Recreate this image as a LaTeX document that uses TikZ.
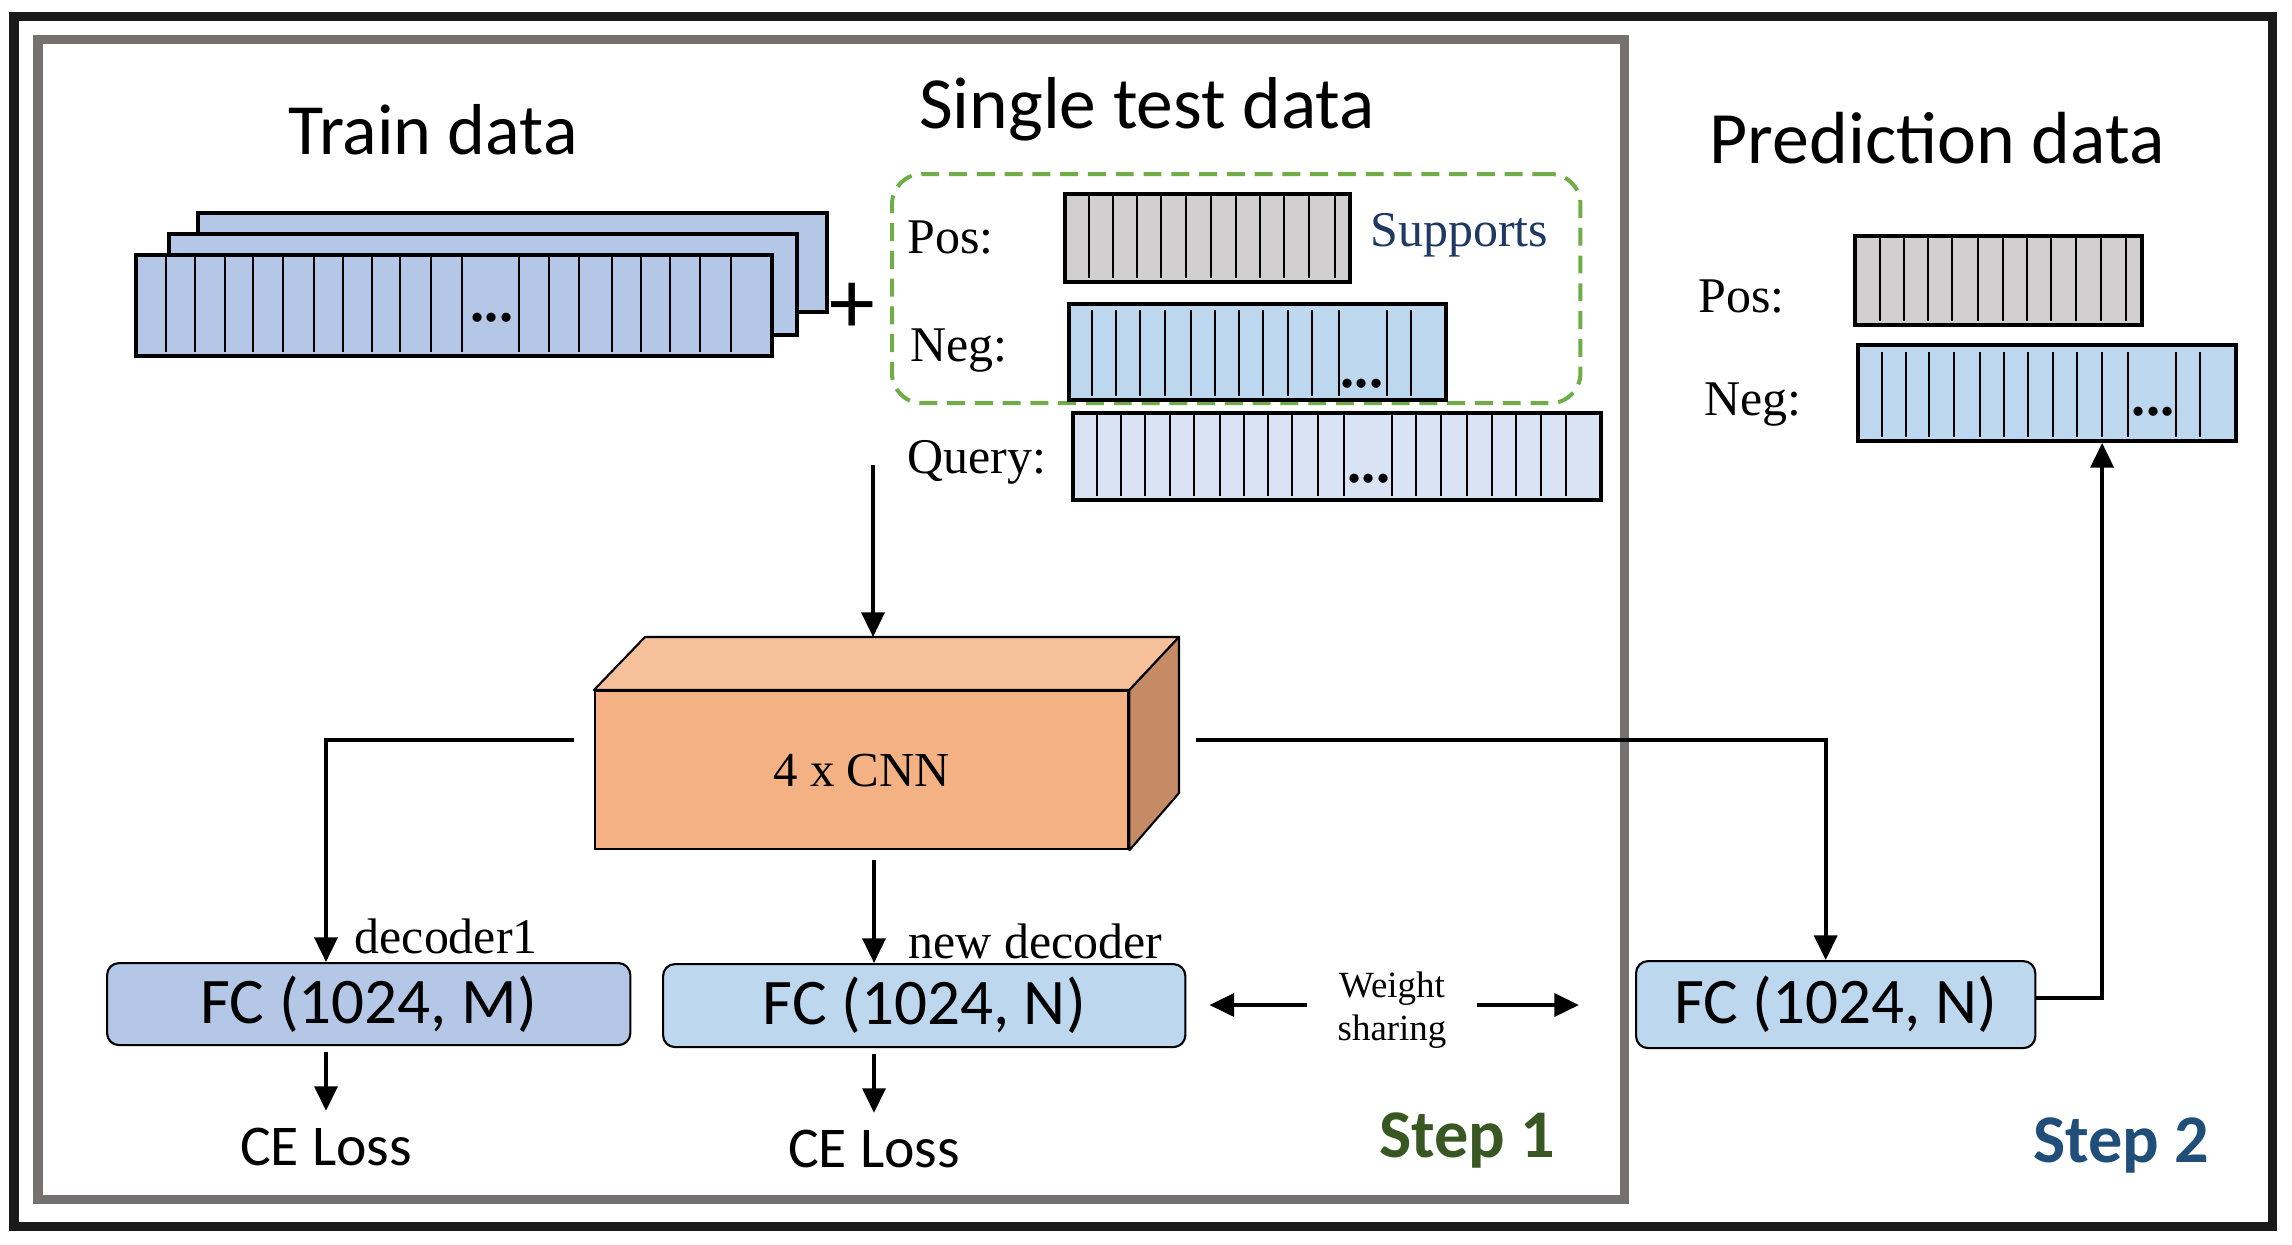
\documentclass[tikz,border=0pt]{standalone}
\usepackage{fontspec}
\setmainfont{Liberation Serif}
\newfontfamily\calib{Carlito}
\usetikzlibrary{arrows.meta,calc}
\definecolor{cTrain}{HTML}{B4C7E7}
\definecolor{cPos}{HTML}{D0CECE}
\definecolor{cNeg}{HTML}{BDD7EE}
\definecolor{cQuery}{HTML}{DAE3F3}
\definecolor{cFront}{HTML}{F4B183}
\definecolor{cTop}{HTML}{F6C09A}
\definecolor{cSide}{HTML}{C48B65}
\definecolor{cGray}{HTML}{767171}
\definecolor{cGreen}{HTML}{70AD47}
\definecolor{cStepA}{HTML}{385723}
\definecolor{cStepB}{HTML}{1F4E79}
\definecolor{cSupp}{HTML}{203864}
\definecolor{cFrame}{HTML}{1A1A1A}
\begin{document}
\begin{tikzpicture}[x=0.01cm,y=-0.01cm,
  arr/.style={line width=1.1pt,-{Triangle[length=7pt,width=6.5pt]}},
  strip/.style={draw,line width=1.1pt,inner sep=0,anchor=north west},
  div/.style={line width=0.6pt},
  fcbox/.style={draw,line width=0.6pt,rounded corners=0.12cm,inner sep=0,anchor=north west,
    font=\calib\fontsize{18.5}{22}\selectfont},
  lab/.style={anchor=base west,inner sep=0,font=\fontsize{14.2}{17}\selectfont},
  dots/.style={anchor=base,inner sep=0,font=\bfseries\fontsize{16}{16}\selectfont},
  title/.style={anchor=base,inner sep=0},
  celoss/.style={anchor=base,inner xsep=0,inner ysep=0.16cm,font=\calib\fontsize{16.4}{20}\selectfont},
  steplab/.style={anchor=base,inner sep=0,font=\calib\bfseries\fontsize{19.4}{23}\selectfont}
]
\useasboundingbox[fill=white] (0,0) rectangle (2292,1244);

% frames
\draw[cFrame,line width=2.56pt] (14,16) rectangle (2272,1226);
\draw[cGray,line width=2.56pt] (38,39) rectangle (1624,1199);

% titles
\node[title,font=\calib\fontsize{20.5}{24}\selectfont] (ttrain) at (433,154) {Train data};
\node[title,font=\calib\fontsize{20.9}{24}\selectfont] (ttest) at (1147,128) {Single test data};
\node[title,font=\calib\fontsize{21}{24}\selectfont] (tpred) at (1937,163) {Prediction data};

% train stack
\node[strip,fill=cTrain,minimum width=6.29cm,minimum height=0.99cm] (tr3) at (196,211) {};
\node[strip,fill=cTrain,minimum width=6.28cm,minimum height=1.01cm] (tr2) at (167,232) {};
\node[strip,fill=cTrain,minimum width=6.36cm,minimum height=1.01cm] (tr1) at (134,253) {};
\foreach \x in {166,195,225,253,283,314,343,372,400,431,462,519,549,579,612,641,670,700,731}
  \draw[div] (\x,255) -- (\x,352);
\node[dots] (dtr) at (492,321) {...};
\node[inner sep=0,font=\calib\fontsize{26}{26}\selectfont] (plus) at (852,308) {+};

% supports group
\node[draw=cGreen,line width=1.14pt,dash pattern=on 5.1pt off 2.8pt,rounded corners=0.3cm,
  inner sep=0,anchor=north west,minimum width=6.88cm,minimum height=2.29cm] (supp) at (890,172) {};
\node[lab,text=cSupp] (lsupp) at (1370,246) {Supports};

% single test data strips
\node[lab] (lpos) at (907,253) {Pos:};
\node[strip,fill=cPos,minimum width=2.85cm,minimum height=0.88cm] (pos) at (1063,192) {};
\foreach \x in {1089,1113,1137,1161,1186,1211,1236,1260,1284,1309,1335}
  \draw[div] (\x,194) -- (\x,278);

\node[lab] (lneg) at (910,361) {Neg:};
\node[strip,fill=cNeg,minimum width=3.77cm,minimum height=0.96cm] (neg) at (1067,302) {};
\foreach \x in {1092,1116,1140,1165,1191,1215,1239,1263,1288,1312,1339,1387,1411}
  \draw[div] (\x,310) -- (\x,396);
\node[dots] (dneg) at (1362,387) {...};

\node[lab] (lquery) at (907,473) {Query:};
\node[strip,fill=cQuery,minimum width=5.28cm,minimum height=0.87cm] (query) at (1071,411) {};
\foreach \x in {1097,1121,1145,1170,1194,1220,1244,1268,1292,1318,1344,1392,1416,1441,1467,1492,1516,1541,1566}
  \draw[div] (\x,413) -- (\x,496);
\node[dots] (dquery) at (1369,482) {...};

% prediction data strips
\node[lab] (rlpos) at (1698,312) {Pos:};
\node[strip,fill=cPos,minimum width=2.87cm,minimum height=0.89cm] (rpos) at (1853,234) {};
\foreach \x in {1880,1904,1928,1952,1978,2003,2027,2051,2076,2101,2126}
  \draw[div] (\x,236) -- (\x,321);

\node[lab] (rlneg) at (1704,415) {Neg:};
\node[strip,fill=cNeg,minimum width=3.78cm,minimum height=0.96cm] (rneg) at (1856,343) {};
\foreach \x in {1882,1906,1929,1954,1980,2004,2028,2053,2077,2102,2128,2176,2200}
  \draw[div] (\x,352) -- (\x,437);
\node[dots] (drneg) at (2153,415) {...};

% CNN block
\coordinate (cbtl) at (645,637);
\coordinate (cbtr) at (1179,637);
\coordinate (cbbr) at (1179,793);
\node[draw,line width=0.6pt,fill=cFront,inner sep=0,anchor=north west,
  minimum width=5.33cm,minimum height=1.58cm,font=\fontsize{13.9}{16}\selectfont] (cnn) at (594,690) {4 x CNN};
\draw[line width=0.6pt,fill=cTop,line join=round] (cnn.north west) -- (cbtl) -- (cbtr) -- (cnn.north east) -- cycle;
\draw[line width=0.6pt,fill=cSide,line join=round] (cnn.north east) -- (cbtr) -- (cbbr) -- (cnn.south east) -- cycle;

% FC boxes
\node[fcbox,fill=cTrain,minimum width=5.23cm,minimum height=0.82cm] (fcm) at (106,962) {FC (1024, M)};
\node[fcbox,fill=cNeg,minimum width=5.22cm,minimum height=0.83cm] (fcn) at (662,963) {FC (1024, N)};
\node[fcbox,fill=cNeg,minimum width=3.99cm,minimum height=0.87cm] (fcr) at (1635,960) {FC (1024, N)};

% CE losses
\node[celoss] (ce1) at (326,1165) {CE Loss};
\node[celoss] (ce2) at (874,1167) {CE Loss};

% labels on arrows
\node[lab] (ldec1) at (354,953) {decoder1};
\node[lab] (ldec2) at (908,958) {new decoder};
\node[align=center,inner ysep=0,inner xsep=0.3cm,font=\fontsize{10.5}{12.2}\selectfont] (ws) at (1392,1010) {Weight\\sharing};

% step labels
\node[steplab,text=cStepA] (step1) at (1467,1157) {Step 1};
\node[steplab,text=cStepB] (step2) at (2121,1162) {Step 2};

% connectors
\coordinate (qa) at (873,465);
\draw[arr] (qa) -- (qa |- cbtl);
\coordinate (cl) at (574,740);
\draw[arr] (cl) -| (ce1.north |- fcm.north);
\draw[arr,shorten <=0.1cm] (ce2.north |- cnn.south) -- (ce2.north |- fcn.north);
\coordinate (cr) at (1196,740);
\draw[arr] (cr) -| ([xshift=-0.1cm]fcr.north);
\draw[arr,shorten <=0.06cm] (ce1.north |- fcm.south) -- (ce1.north);
\draw[arr,shorten <=0.06cm] (ce2.north |- fcn.south) -- (ce2.north);
\draw[arr,shorten >=0.23cm] ([yshift=0.05cm]ws.west) -- ([yshift=0.05cm]ws.west -| fcn.east);
\draw[arr,shorten >=0.56cm] ([yshift=0.05cm]ws.east) -- ([yshift=0.05cm]ws.east -| fcr.west);
\draw[arr] ([yshift=0.07cm]fcr.east) -| ([xshift=0.55cm]rneg.south);
\end{tikzpicture}
\end{document}
